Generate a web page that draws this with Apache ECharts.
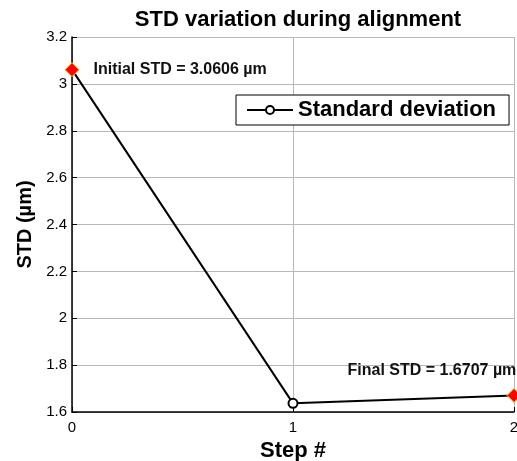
<!DOCTYPE html>
<html>
<head>
<meta charset="utf-8">
<script src="https://cdn.jsdelivr.net/npm/echarts@6/dist/echarts.min.js"></script>
<style>
  html, body { margin: 0; padding: 0; background: #fff; }
  #chart { width: 517px; height: 461px; }
</style>
</head>
<body>
<div id="chart"></div>
<script>
// Alignment steps and the standard deviation measured after each one
const steps = [0, 1, 2];
const stdValues = [3.0606, 1.637, 1.6707];
const yTicks = { min: 1.6, max: 3.2, step: 0.2 };
const xTicks = { min: 0, max: 2, step: 1 };
const initialLabel = 'Initial STD = ' + stdValues[0].toFixed(4) + ' µm';
const finalLabel = 'Final STD = ' + stdValues[2].toFixed(4) + ' µm';

const FONT = 'Liberation Sans, Arial, sans-serif';

const chart = echarts.init(document.getElementById('chart'), null, { renderer: 'canvas' });

// first and last steps are highlighted with a red diamond
const endMarker = {
  symbol: 'diamond',
  symbolSize: 14,
  itemStyle: { color: '#ff0000', borderColor: '#ffd700', borderWidth: 1 }
};

const annotationStyle = {
  color: '#111', fontWeight: 'bold', fontSize: 16, fontFamily: FONT
};

const seriesData = steps.map((s, i) => {
  const item = { value: [s, stdValues[i]] };
  if (i === 0) {
    Object.assign(item, endMarker, {
      label: Object.assign({
        show: true, position: 'right', distance: 14, formatter: initialLabel
      }, annotationStyle)
    });
  } else if (i === steps.length - 1) {
    Object.assign(item, endMarker, {
      label: Object.assign({
        show: true, position: [-159, -25], formatter: finalLabel
      }, annotationStyle)
    });
  }
  return item;
});

chart.setOption({
  backgroundColor: '#fff',
  animation: false,
  title: {
    text: 'STD variation during alignment',
    left: 293, textAlign: 'center', top: 4,
    textStyle: { fontSize: 22, fontWeight: 'bold', color: '#000', fontFamily: FONT }
  },
  legend: {
    left: 236, top: 95,
    padding: [4, 13, 4, 10],
    backgroundColor: '#fff',
    borderColor: '#000', borderWidth: 1, borderRadius: 0,
    itemWidth: 46, itemHeight: 10, itemGap: 10,
    textStyle: { fontSize: 22, fontWeight: 'bold', color: '#000', fontFamily: FONT },
    data: ['Standard deviation']
  },
  grid: { left: 72, right: 3, top: 37, bottom: 49, containLabel: false, outerBoundsMode: 'none' },
  xAxis: {
    type: 'value',
    min: xTicks.min, max: xTicks.max, interval: xTicks.step,
    name: 'Step #', nameLocation: 'middle', nameGap: 26,
    nameTextStyle: { fontSize: 22, fontWeight: 'bold', color: '#000', fontFamily: FONT },
    axisLine: { show: true, onZero: false, lineStyle: { color: '#000', width: 1.5 } },
    axisTick: { show: true, inside: true, length: 5, lineStyle: { color: '#000' } },
    axisLabel: { fontSize: 15, color: '#000', margin: 8, fontFamily: FONT },
    splitLine: { show: true, lineStyle: { color: '#b8b8b8', width: 1 } }
  },
  yAxis: {
    type: 'value',
    min: yTicks.min, max: yTicks.max, interval: yTicks.step,
    name: 'STD (µm)', nameLocation: 'middle', nameGap: 37, nameRotate: 90,
    nameTextStyle: { fontSize: 20, fontWeight: 'bold', color: '#000', fontFamily: FONT },
    axisLine: { show: true, onZero: false, lineStyle: { color: '#000', width: 1.5 } },
    axisTick: { show: true, inside: true, length: 5, lineStyle: { color: '#000' } },
    axisLabel: {
      fontSize: 15, color: '#000', margin: 5, fontFamily: FONT,
      formatter: v => String(+v.toFixed(1))
    },
    splitLine: { show: true, lineStyle: { color: '#b8b8b8', width: 1 } }
  },
  series: [{
    name: 'Standard deviation',
    type: 'line',
    data: seriesData,
    symbol: 'emptyCircle',
    symbolSize: 9,
    showAllSymbol: true,
    clip: false,
    lineStyle: { color: '#000', width: 2 },
    itemStyle: { color: '#000', borderColor: '#000', borderWidth: 2 }
  }]
});
</script>
</body>
</html>
